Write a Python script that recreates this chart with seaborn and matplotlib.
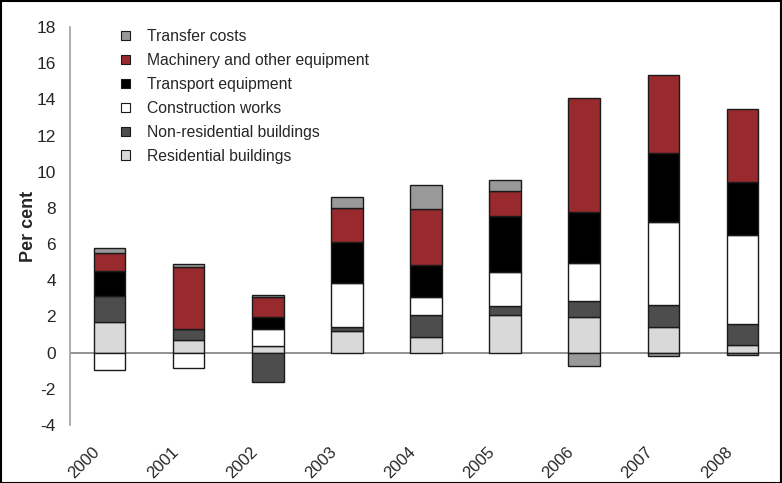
import matplotlib
matplotlib.use("Agg")
import matplotlib.pyplot as plt
import matplotlib.transforms as mtransforms
from matplotlib.patches import Rectangle, Patch
import numpy as np
import pandas as pd
import seaborn as sns

years = ["2000", "2001", "2002", "2003", "2004", "2005", "2006", "2007", "2008"]
residential = [1.67, 0.72, 0.39, 1.18, 0.87, 2.06, 1.95, 1.42, 0.40]
non_residential = [1.44, 0.59, -1.64, 0.22, 1.21, 0.54, 0.92, 1.21, 1.18]
construction = [-0.94, -0.85, 0.94, 2.45, 0.97, 1.86, 2.08, 4.57, 4.90]
transport = [1.42, 0.0, 0.62, 2.24, 1.81, 3.07, 2.82, 3.83, 2.94]
machinery = [0.97, 3.42, 1.12, 1.90, 3.07, 1.38, 6.31, 4.34, 4.05]
transfer = [0.28, 0.15, 0.12, 0.62, 1.31, 0.64, -0.74, -0.18, -0.13]

series_names = ["Residential buildings", "Non-residential buildings", "Construction works",
                "Transport equipment", "Machinery and other equipment", "Transfer costs"]
series_values = [residential, non_residential, construction, transport, machinery, transfer]
colors = ["#d9d9d9", "#4d4d4d", "#ffffff", "#000000", "#982a2e", "#999999"]

sns.set_theme(style="white")
plt.rcParams['font.family'] = ['Liberation Sans', 'DejaVu Sans']

fig = plt.figure(figsize=(7.82, 4.83), dpi=100)
ax = fig.add_axes([70/782, 58/483, 712/782, 398/483])

pos_bottom = np.zeros(len(years))
neg_bottom = np.zeros(len(years))
for name, vals, col in zip(series_names, series_values, colors):
    v = np.array(vals, dtype=float)
    bottoms = np.where(v >= 0, pos_bottom, neg_bottom)
    df = pd.DataFrame({"year": years, "value": v})
    sns.barplot(data=df, x="year", y="value", order=years, bottom=bottoms,
                color=col, saturation=1, width=0.4, errorbar=None,
                edgecolor="#1a1a1a", linewidth=1.0, ax=ax)
    pos_bottom = pos_bottom + np.where(v > 0, v, 0)
    neg_bottom = neg_bottom + np.where(v < 0, v, 0)

ax.axhline(0, color="#808080", lw=1.2, zorder=0.5)
ax.set_xlim(-0.5, len(years) - 0.5)
ax.set_ylim(-4, 18)
ax.set_yticks(range(-4, 19, 2))
ax.set_yticklabels([str(t) for t in range(-4, 19, 2)], fontsize=12.5)
ax.tick_params(axis="y", length=0, pad=10)
ax.tick_params(axis="x", length=0, pad=14)
ax.set_xticks(range(len(years)))
ax.set_xticklabels(years, rotation=45, ha="right", rotation_mode="anchor", fontsize=12)
shift = mtransforms.ScaledTranslation(-18/100, 0, fig.dpi_scale_trans)
for lbl in ax.get_xticklabels():
    lbl.set_transform(lbl.get_transform() + shift)
ax.set_xlabel("")
ax.set_ylabel("Per cent", fontsize=13, fontweight="bold")
ax.yaxis.set_label_coords(-33/712, 0.5)

for s in ["top", "right", "bottom"]:
    ax.spines[s].set_visible(False)
ax.spines["left"].set_color("#a0a0a0")
ax.spines["left"].set_linewidth(1.2)

handles = [Patch(facecolor=c, edgecolor="#1a1a1a", linewidth=0.8, label=n)
           for n, c in zip(series_names, colors)][::-1]
leg = fig.legend(handles=handles, loc="upper left",
                 bbox_to_anchor=(121/782, 1 - 29/483), bbox_transform=fig.transFigure,
                 frameon=False, fontsize=11.3, handlelength=0.55, handleheight=0.55,
                 handletextpad=1.1, labelspacing=0.57, borderaxespad=0, borderpad=0)

fig.patches.append(Rectangle((0.001, 0.001), 0.998, 0.997, transform=fig.transFigure,
                             fill=False, edgecolor="black", linewidth=1.5))

fig.savefig("out.png", dpi=100)
